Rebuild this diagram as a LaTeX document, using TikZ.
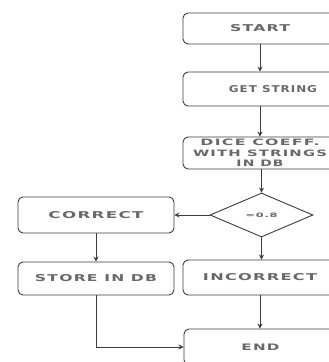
\documentclass[tikz,border=0pt]{standalone}
\usepackage{fontspec}
\usepackage{graphicx}
\usetikzlibrary{shapes.geometric,arrows.meta}
\newfontfamily\boxfont[LetterSpace=8]{DejaVu Sans Bold}
\newcommand{\wtxt}[3]{\resizebox{#1}{#2}{\boxfont #3}}
\definecolor{edge}{HTML}{3C3C3C}
\definecolor{ink}{HTML}{686868}
\tikzset{
  flowbox/.style={draw=edge, line width=0.9pt, rounded corners=5pt, fill=white,
    inner sep=0pt, font=\fontsize{8}{10.5}\selectfont, text=ink, align=center},
  decision/.style={draw=edge, line width=0.9pt, diamond, fill=white,
    minimum width=103pt, minimum height=44pt, inner sep=0pt, text=ink},
  conn/.style={draw=edge, line width=0.9pt, -{Stealth[length=5pt,width=5pt]}}
}
\begin{document}
\begin{tikzpicture}[x=1pt,y=-1pt]
\useasboundingbox (0,0) rectangle (329,362);
\clip (0,0) rectangle (329,362);
\node[flowbox, minimum width=154pt, minimum height=31pt] (start) at (260,28.5) {\wtxt{60pt}{7pt}{START}};
\node[flowbox, minimum width=154pt, minimum height=34pt] (getstr) at (260,89) {\hspace*{26pt}\wtxt{88pt}{7pt}{GET STRING}};
\node[flowbox, minimum width=154pt, minimum height=32pt] (dice) at (260,153) {\wtxt{119pt}{6.5pt}{DICE COEFF.}\\\wtxt{134pt}{6.5pt}{WITH STRINGS}\\\wtxt{47pt}{6.5pt}{IN DB}};
\node[decision] (dec) at (261.5,215) {\wtxt{32pt}{4.5pt}{=0.8}};
\node[flowbox, minimum width=156pt, minimum height=36pt] (correct) at (96,215) {\wtxt{95pt}{7pt}{CORRECT}};
\node[flowbox, minimum width=156pt, minimum height=33pt] (store) at (96,278.5) {\wtxt{122pt}{7pt}{STORE IN DB}};
\node[flowbox, minimum width=154pt, minimum height=35pt] (incorrect) at (260,277.5) {\wtxt{114pt}{7pt}{INCORRECT}};
\node[flowbox, minimum width=153pt, minimum height=36pt] (end) at (260.5,347) {\wtxt{38pt}{6.5pt}{END}};
\coordinate (bend) at (store.south |- end.west);
\draw[conn] (start.south) -- (start.south |- getstr.north);
\draw[conn] (getstr.south) -- (getstr.south |- dice.north);
\draw[conn] (dec.north |- dice.south) -- (dec.north);
\draw[conn] (dec.west) -- (correct.east);
\draw[conn] (correct.south) -- (store.north);
\draw[conn] (dec.south) -- (dec.south |- incorrect.north);
\draw[conn] (incorrect.south) -- (incorrect.south |- end.north);
\draw[conn] (store.south) -- (bend) -- (end.west);
\end{tikzpicture}
\end{document}
